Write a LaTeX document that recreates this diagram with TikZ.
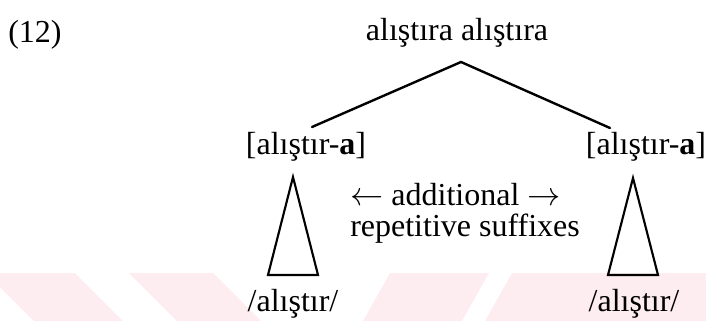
\documentclass[tikz,border=0pt]{standalone}
\usepackage{fontspec}
\setmainfont{Liberation Serif}
\definecolor{wm}{RGB}{253,237,241}
\begin{document}
\begin{tikzpicture}[x=0.75pt,y=-0.75pt,
  lbl/.style={inner sep=0pt, font=\fontsize{24}{28}\selectfont},
  branch/.style={line width=1.8pt, line cap=round},
  tri/.style={line width=1.6pt, line join=miter}]
\useasboundingbox (0,0) rectangle (706,321);
\begin{scope}
\clip (0,0) rectangle (706,321);
\fill[wm] (-14,273) -- (75,273) -- (123,321) -- (34,321) -- cycle;
\fill[wm] (129,273) -- (213,273) -- (261,321) -- (177,321) -- cycle;
\fill[wm] (390,273) -- (489,273) -- (462,321) -- (363,321) -- cycle;
\fill[wm] (512,273) -- (720,273) -- (720,321) -- (485,321) -- cycle;
\end{scope}
\node[lbl, anchor=base west] (ex) at (8,43) {(12)};
\node[lbl, anchor=base] (top) at (457,41) {alıştıra alıştıra};
\node[lbl, anchor=base] (L) at (306,154) {[alıştır-\textbf{a}]};
\node[lbl, anchor=base] (R) at (646,154) {[alıştır-\textbf{a}]};
\coordinate (apex) at (461,62);
\coordinate (lend) at (312,127);
\coordinate (rend) at (610,128);
\draw[branch] (lend) -- (apex) -- (rend);
\coordinate (lt) at (293,177);
\coordinate (lb1) at (268,275);
\coordinate (lb2) at (318,275);
\coordinate (rt) at (633,178);
\coordinate (rb1) at (608,275);
\coordinate (rb2) at (658,275);
\draw[tri] (lt) -- (lb1) -- (lb2) -- cycle;
\draw[tri] (rt) -- (rb1) -- (rb2) -- cycle;
\node[lbl, anchor=base west] (add) at (350,205) {$\leftarrow$ additional $\rightarrow$};
\node[lbl, anchor=base west] (rep) at (350,236) {repetitive suffixes};
\node[lbl, anchor=base] (bl) at (293,311) {/alıştır/};
\node[lbl, anchor=base] (br) at (634,311) {/alıştır/};
\end{tikzpicture}
\end{document}
